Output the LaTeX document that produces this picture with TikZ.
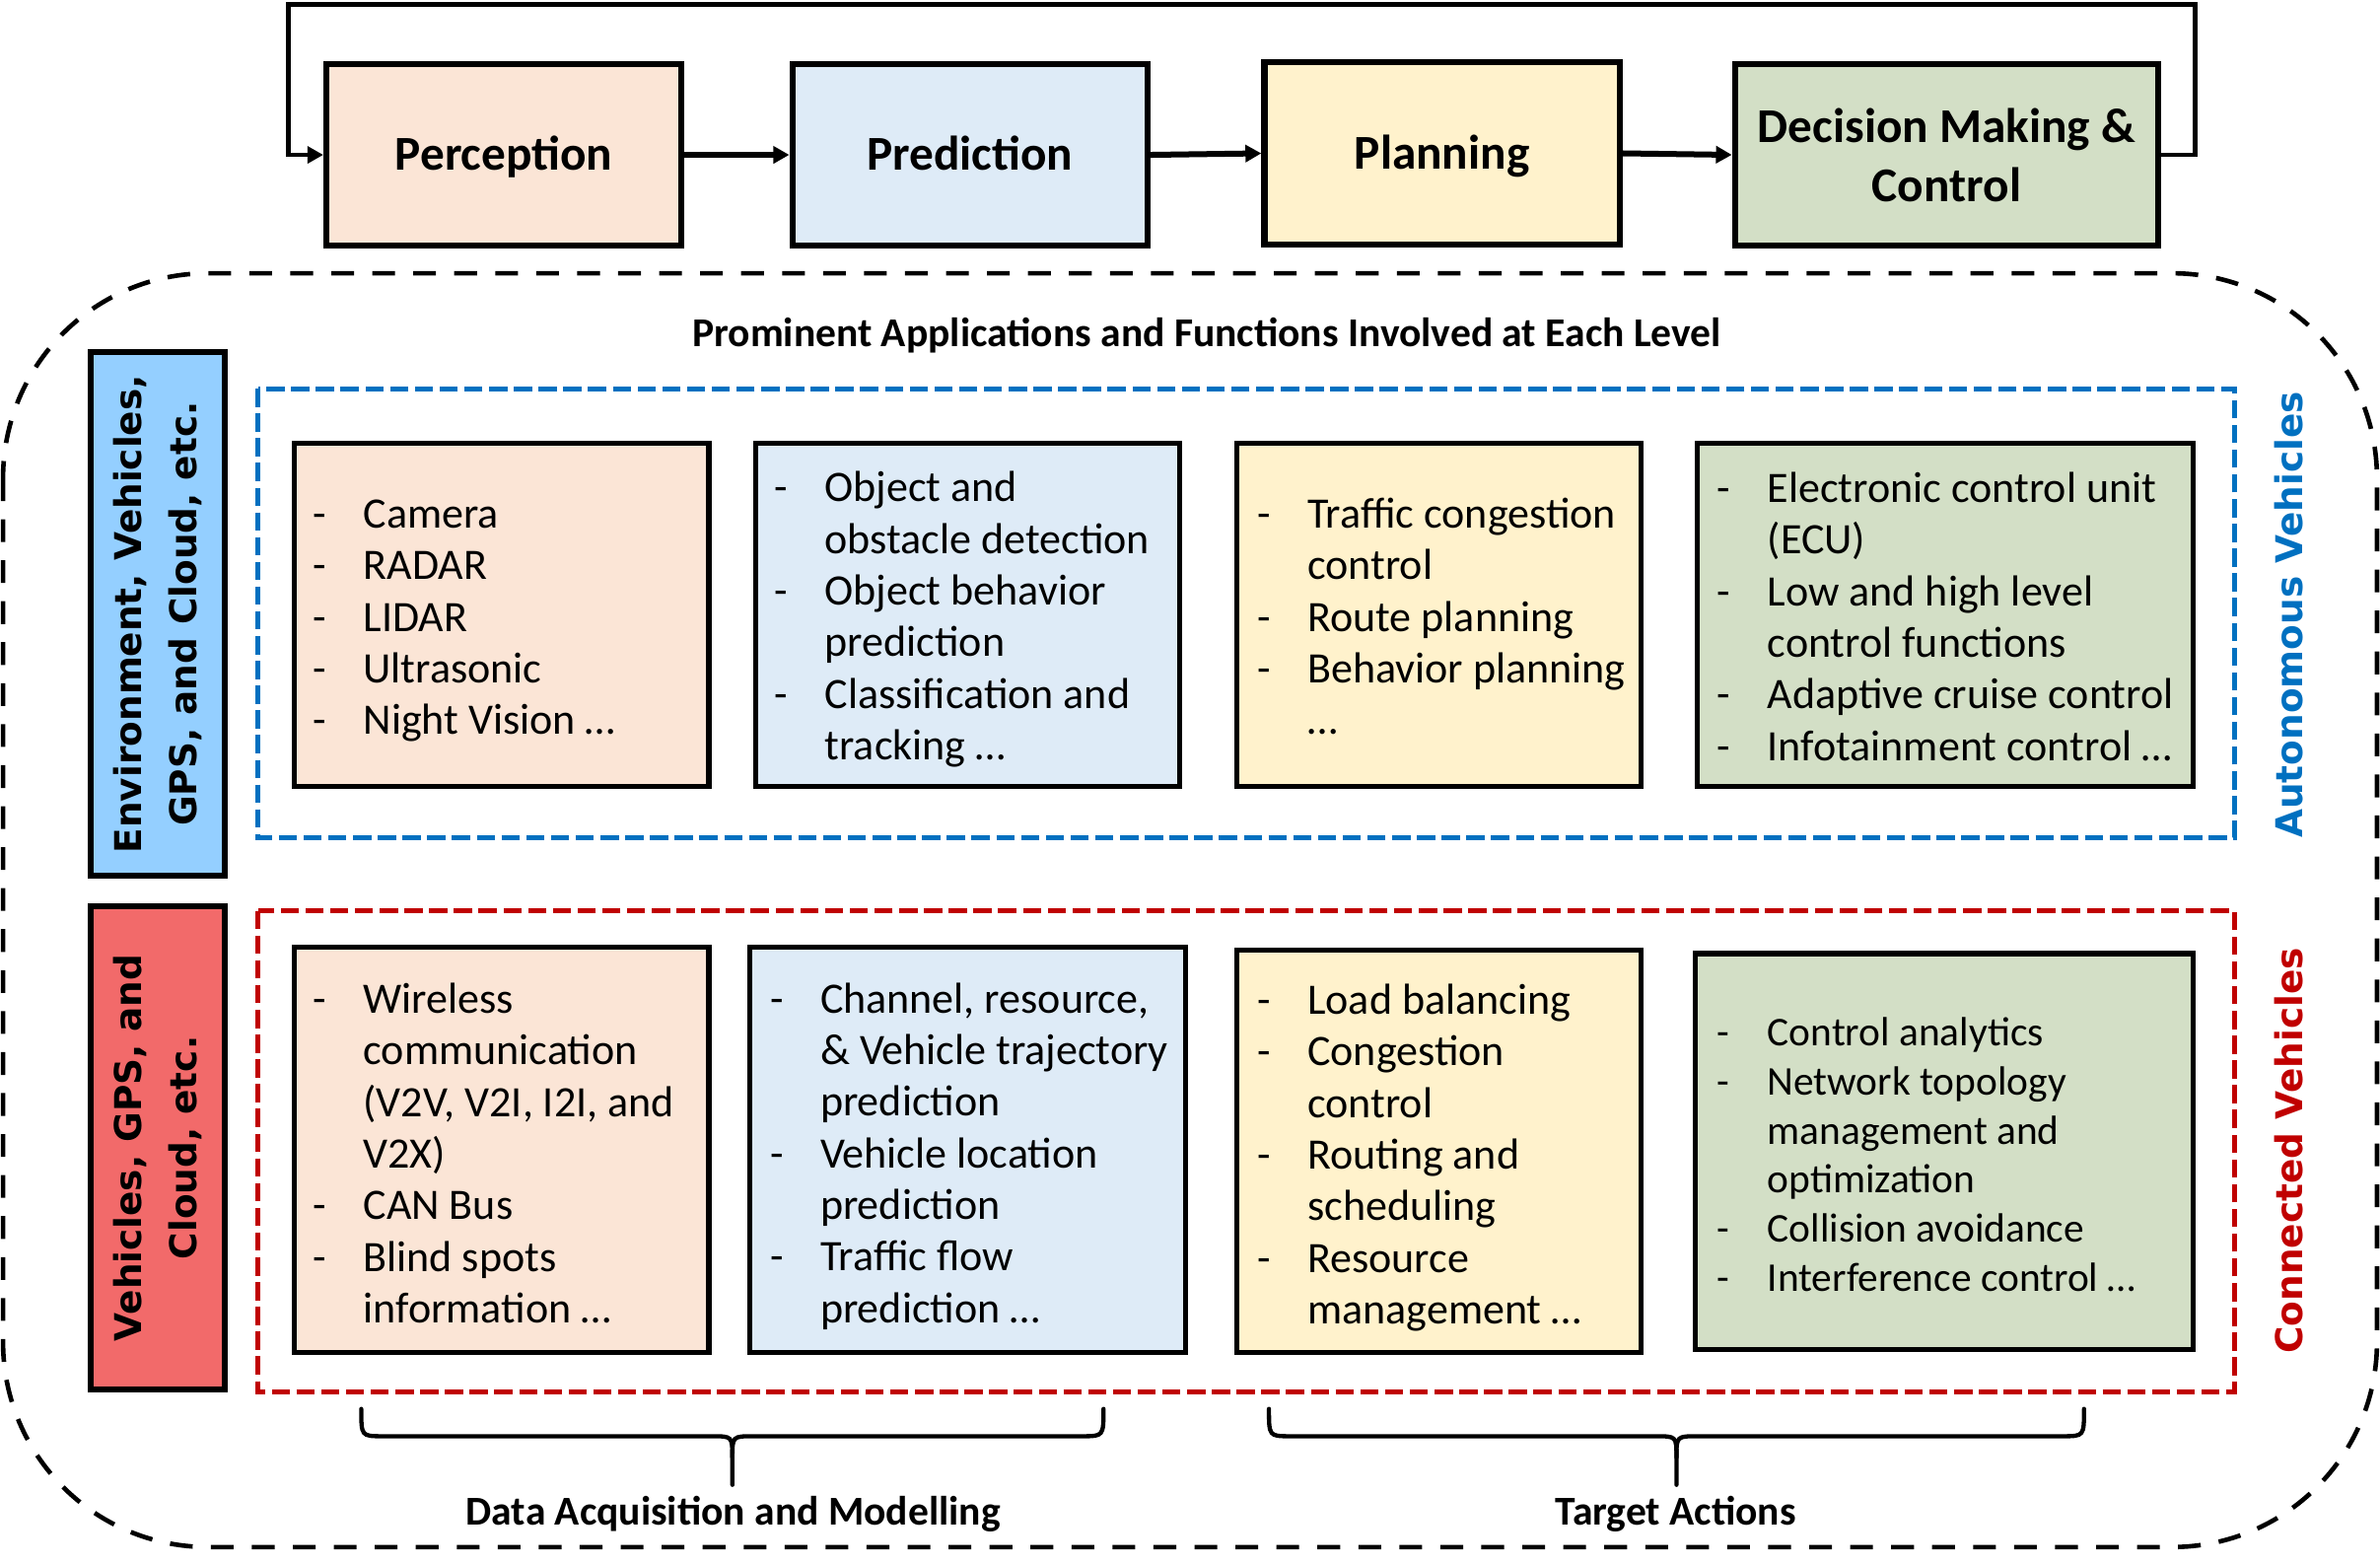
\documentclass[tikz,border=0pt]{standalone}
\usepackage{fontspec}
\setmainfont{Carlito}
\newfontfamily\labelfont{DejaVu Sans}
\usetikzlibrary{arrows.meta}

\definecolor{percfill}{HTML}{FBE5D6}
\definecolor{predfill}{HTML}{DEEBF7}
\definecolor{planfill}{HTML}{FFF2CC}
\definecolor{ctrlfill}{HTML}{D3DFC6}
\definecolor{avblue}{HTML}{0070C0}
\definecolor{cvred}{HTML}{C00000}
\definecolor{avlabel}{HTML}{94CFFF}
\definecolor{cvlabel}{HTML}{F26A6A}

% list entries: a dash, then the text on a tab stop
\newcommand\itm[1]{\makebox[33pt][l]{-}#1}
\newcommand\cnt[1]{\hspace*{33pt}#1}

\tikzset{
  stage/.style={draw, line width=4pt, minimum width=#1, minimum height=120pt,
    inner sep=0pt, align=center, font=\fontsize{32}{39}\selectfont\bfseries},
  oneline/.style={text height=20.6pt, text depth=0pt},
  stagearrow/.style={line width=3.9pt, -{Triangle[length=10.5pt,width=11pt]}},
  feedback/.style={line width=3pt, -{Triangle[length=10.5pt,width=11pt]}},
  itembox/.style={draw, line width=3.5pt, inner sep=0pt},
  itemtext/.style={anchor=west, inner sep=0pt, align=left,
    font=\fontsize{28.6}{34}\selectfont},
  itemtextsmall/.style={anchor=west, inner sep=0pt, align=left,
    font=\fontsize{26.9}{32.4}\selectfont},
  sidebox/.style={draw, line width=3.9pt, inner sep=0pt, minimum width=88pt},
  sidetext/.style={rotate=90, align=center, inner sep=0pt,
    font=\labelfont\fontsize{24.3}{36}\selectfont\bfseries},
  groupframe/.style={line width=3.2pt, dash pattern=on 12pt off 4.3pt},
  bracepath/.style={line width=2.8pt, line cap=round},
  bracelabel/.style={font=\fontsize{27}{32}\selectfont\bfseries, inner sep=0pt},
}

\begin{document}
\begin{tikzpicture}[x=1pt, y=-1pt]
\useasboundingbox (0,0) rectangle (1568,1030);

% processing pipeline
\node[stage=234pt, oneline, fill=percfill] (perc) at (332,102) {Perception};
\node[stage=234pt, oneline, fill=predfill] (pred) at (639,102) {Prediction};
\node[stage=234pt, oneline, fill=planfill] (plan) at (950,101) {Planning};
\node[stage=279pt, fill=ctrlfill] (ctrl) at (1282.5,102) {Decision Making \&\\Control};

\draw[stagearrow] (perc.east) -- (pred.west);
\draw[stagearrow] (pred.east) -- (plan.west);
\draw[stagearrow] (plan.east) -- (ctrl.west);

\coordinate (loopR) at (1446,3);
\coordinate (loopL) at (190,3);
\draw[feedback] (ctrl.east) -| (loopR) -- (loopL) |- (perc.west);

% outer frame
\draw[line width=3pt, dash pattern=on 15pt off 12pt, rounded corners=135pt]
  (2,180) rectangle (1566,1019);
\node[font=\fontsize{27}{32}\selectfont\bfseries, inner sep=0pt] (title) at (795,221)
  {Prominent Applications and Functions Involved at Each Level};

% group frames
\draw[groupframe, avblue] (170,256) rectangle (1472,552);
\draw[groupframe, cvred] (170,600) rectangle (1472,917);

% left source labels
\node[sidebox, fill=avlabel, minimum height=345pt] (avsrc) at (104,404.5) {};
\node[sidetext] (avsrctext) at (avsrc.center) {Environment, Vehicles,\\GPS, and Cloud, etc.};
\node[sidebox, fill=cvlabel, minimum height=318pt] (cvsrc) at (104,756) {};
\node[sidetext] (cvsrctext) at (cvsrc.center) {Vehicles, GPS, and\\Cloud, etc.};

% right group labels
\node[sidetext, text=avblue] (avname) at (1508,405) {Autonomous Vehicles};
\node[sidetext, text=cvred] (cvname) at (1508,758) {Connected Vehicles};

% autonomous vehicles row
\node[itembox, fill=percfill, minimum width=273pt, minimum height=226pt] (a1) at (330.5,405) {};
\node[itembox, fill=predfill, minimum width=279pt, minimum height=226pt] (a2) at (637.5,405) {};
\node[itembox, fill=planfill, minimum width=266pt, minimum height=226pt] (a3) at (948,405) {};
\node[itembox, fill=ctrlfill, minimum width=327pt, minimum height=226pt] (a4) at (1281.5,405) {};

\node[itemtext] (a1t) at ([xshift=14pt,yshift=-4pt]a1.west)
  {\itm{Camera}\\\itm{RADAR}\\\itm{LIDAR}\\\itm{Ultrasonic}\\\itm{Night Vision …}};
\node[itemtext] (a2t) at ([xshift=14pt,yshift=-3pt]a2.west)
  {\itm{Object and}\\\cnt{obstacle detection}\\\itm{Object behavior}\\\cnt{prediction}\\\itm{Classification and}\\\cnt{tracking …}};
\node[itemtext] (a3t) at ([xshift=15pt,yshift=-1pt]a3.west)
  {\itm{Traffic congestion}\\\cnt{control}\\\itm{Route planning}\\\itm{Behavior planning}\\\cnt{…}};
\node[itemtext] (a4t) at ([xshift=15pt,yshift=-1pt]a4.west)
  {\itm{Electronic control unit}\\\cnt{(ECU)}\\\itm{Low and high level}\\\cnt{control functions}\\\itm{Adaptive cruise control}\\\itm{Infotainment control …}};

% connected vehicles row
\node[itembox, fill=percfill, minimum width=273pt, minimum height=267pt] (b1) at (330.5,757.5) {};
\node[itembox, fill=predfill, minimum width=287pt, minimum height=267pt] (b2) at (637.5,757.5) {};
\node[itembox, fill=planfill, minimum width=266pt, minimum height=265pt] (b3) at (948,758.5) {};
\node[itembox, fill=ctrlfill, minimum width=328pt, minimum height=261pt] (b4) at (1281,758.5) {};

\node[itemtext] (b1t) at ([xshift=14pt,yshift=-2pt]b1.west)
  {\itm{Wireless}\\\cnt{communication}\\\cnt{(V2V, V2I, I2I, and}\\\cnt{V2X)}\\\itm{CAN Bus}\\\itm{Blind spots}\\\cnt{information …}};
\node[itemtext] (b2t) at ([xshift=15pt,yshift=-4pt]b2.west)
  {\itm{Channel, resource,}\\\cnt{\& Vehicle trajectory}\\\cnt{prediction}\\\itm{Vehicle location}\\\cnt{prediction}\\\itm{Traffic flow}\\\cnt{prediction …}};
\node[itemtext] (b3t) at ([xshift=15pt,yshift=-4pt]b3.west)
  {\itm{Load balancing}\\\itm{Congestion}\\\cnt{control}\\\itm{Routing and}\\\cnt{scheduling}\\\itm{Resource}\\\cnt{management …}};
\node[itemtextsmall] (b4t) at ([xshift=16pt,yshift=-2pt]b4.west)
  {\itm{Control analytics}\\\itm{Network topology}\\\cnt{management and}\\\cnt{optimization}\\\itm{Collision avoidance}\\\itm{Interference control …}};

% grouping braces
\coordinate (dl) at (238,928); \coordinate (dr) at (727,928); \coordinate (dm) at (482.5,978);
\draw[bracepath] (dl) .. controls (238,946) and (238,946) .. (252,946) -- (468.5,946)
  .. controls (482.5,946) .. (482.5,960) -- (dm);
\draw[bracepath] (dr) .. controls (727,946) and (727,946) .. (713,946) -- (496.5,946)
  .. controls (482.5,946) .. (482.5,960);
\node[bracelabel] (dlabel) at (483,997) {Data Acquisition and Modelling};

\coordinate (tl) at (836,928); \coordinate (tr) at (1373,928); \coordinate (tm) at (1104.5,978);
\draw[bracepath] (tl) .. controls (836,946) and (836,946) .. (850,946) -- (1090.5,946)
  .. controls (1104.5,946) .. (1104.5,960) -- (tm);
\draw[bracepath] (tr) .. controls (1373,946) and (1373,946) .. (1359,946) -- (1118.5,946)
  .. controls (1104.5,946) .. (1104.5,960);
\node[bracelabel] (tlabel) at (1104,997) {Target Actions};

\end{tikzpicture}
\end{document}
